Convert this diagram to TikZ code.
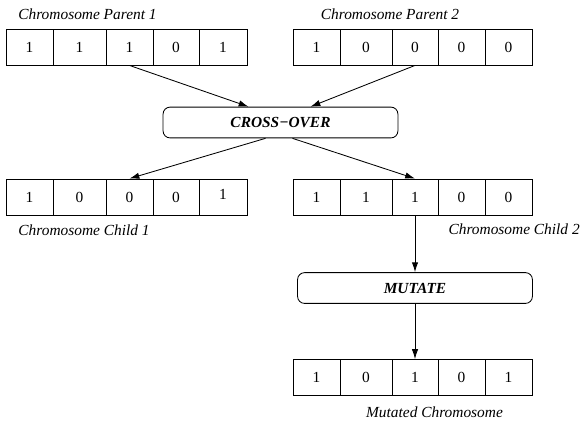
\documentclass[tikz,border=0pt,11pt]{standalone}
\usepackage{fontspec}
\setmainfont{Liberation Serif}
\usetikzlibrary{calc,arrows.meta}

\tikzset{
  gene/.style={draw, line width=0.6pt, minimum height=0.9cm, inner sep=0pt},
  oper/.style={draw, line width=0.6pt, rounded corners=5pt, minimum width=5.87cm,
    minimum height=0.77cm, inner sep=0pt, font=\bfseries\itshape},
  caption/.style={font=\itshape, inner sep=0pt},
  flow/.style={line width=0.6pt, -{Latex[length=7pt,width=4.5pt]}}
}

\begin{document}
\begin{tikzpicture}[x=0.025cm, y=-0.025cm]
        \useasboundingbox (0,0) rectangle (582,424);

        % parents
        \node[caption] (capPa) at (87.5,14) {Chromosome Parent 1};
        \node[caption] (capPb) at (390,14) {Chromosome Parent 2};
        \foreach \xa/\xb/\g [count=\i] in {6/53/1,53/106/1,106/153/1,153/199/0,199/247/1}
            \node[gene, minimum width={(\xb-\xa)*0.025cm}] (pa\i) at ({(\xa+\xb)/2},47) {\g};
        \foreach \xa/\xb/\g [count=\i] in {293/340/1,340/392/0,392/438/0,438/485/0,485/532/0}
            \node[gene, minimum width={(\xb-\xa)*0.025cm}] (pb\i) at ({(\xa+\xb)/2},47) {\g};

        % cross-over step
        \node[oper] (cross) at (280.5,122.5) {CROSS−OVER};
        \coordinate (inA) at ($(cross.north)+(-32,0)$);
        \coordinate (inB) at ($(cross.north)+(30,0)$);
        \coordinate (outA) at ($(cross.south)+(-15,0)$);
        \coordinate (outB) at ($(cross.south)+(12,0)$);
        \draw[flow] (pa3.south) -- (inA);
        \draw[flow] (pb3.south) -- (inB);

        % children
        \foreach \xa/\xb/\g [count=\i] in {6/53/1,53/106/0,106/153/0,153/199/0,199/247/{\raisebox{4pt}{1}}}
            \node[gene, minimum width={(\xb-\xa)*0.025cm}] (ca\i) at ({(\xa+\xb)/2},197) {\g};
        \foreach \xa/\xb/\g [count=\i] in {293/340/1,340/392/1,392/438/1,438/485/0,485/532/0}
            \node[gene, minimum width={(\xb-\xa)*0.025cm}] (cb\i) at ({(\xa+\xb)/2},197) {\g};
        \node[caption] (capCa) at (84,230) {Chromosome Child 1};
        \node[caption, anchor=east] (capCb) at (580,229) {Chromosome Child 2};
        \draw[flow] (outA) -- (ca3.north);
        \draw[flow] (outB) -- (cb3.north);

        % mutation step
        \node[oper] (mutate) at (415,288) {MUTATE};
        \draw[flow] (cb3.south) -- (mutate.north);
        \foreach \xa/\xb/\g [count=\i] in {293/340/1,340/392/0,392/438/1,438/485/0,485/532/1}
            \node[gene, minimum width={(\xb-\xa)*0.025cm}] (mu\i) at ({(\xa+\xb)/2},377.5) {\g};
        \draw[flow] (mutate.south) -- (mu3.north);
        \node[caption] (capMu) at (434.5,412) {Mutated Chromosome};
    \end{tikzpicture}
\end{document}
